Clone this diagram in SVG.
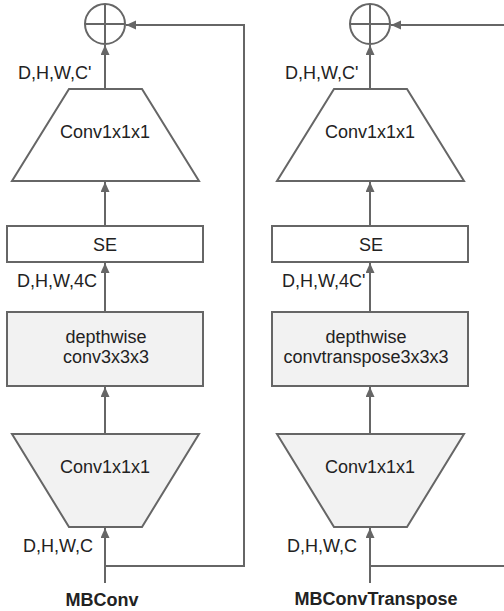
<svg xmlns="http://www.w3.org/2000/svg" width="504" height="611" viewBox="0 0 504 611">
<style>
.s{stroke:#666;stroke-width:2;fill:#fff}
.g{fill:#f2f2f2}
.l{stroke:#666;stroke-width:2;fill:none}
text{font-family:"Liberation Sans",Arial,sans-serif;font-size:18px;fill:#222}
.c{text-anchor:middle}
.b{font-weight:bold}
</style>
<defs>
<marker id="ah" markerUnits="userSpaceOnUse" markerWidth="11" markerHeight="10" refX="10" refY="4.5" orient="auto">
<path d="M0,0 L10,4.5 L0,9 z" fill="#666"/>
</marker>
</defs>
<rect width="504" height="611" fill="#fff"/>
<g id="left-add">
<circle class="s" cx="105" cy="24" r="20"/>
<path class="l" d="M85,24 H125 M105,4 V44"/>
</g>
<g id="left-conv-top">
<polygon class="s" points="69,89 142,89 199,181 12,181"/>
<text class="c" x="105" y="138">Conv1x1x1</text>
</g>
<g id="left-se">
<rect class="s" x="7" y="226" width="196" height="36"/>
<text class="c" x="105" y="251">SE</text>
</g>
<g id="left-dw">
<rect class="s g" x="7" y="312" width="196" height="74"/>
<text class="c" x="106" y="343">depthwise</text>
<text class="c" x="106" y="363">conv3x3x3</text>
</g>
<g id="left-conv-bottom">
<polygon class="s g" points="12,434 199,434 142,527 69,527"/>
<text class="c" x="105" y="473">Conv1x1x1</text>
</g>
<g id="right-add">
<circle class="s" cx="370" cy="24" r="20"/>
<path class="l" d="M350,24 H390 M370,4 V44"/>
</g>
<g id="right-conv-top">
<polygon class="s" points="334,89 407,89 464,181 277,181"/>
<text class="c" x="370" y="138">Conv1x1x1</text>
</g>
<g id="right-se">
<rect class="s" x="272" y="226" width="196" height="36"/>
<text class="c" x="371" y="251">SE</text>
</g>
<g id="right-dw">
<rect class="s g" x="272" y="312" width="196" height="74"/>
<text class="c" x="366" y="343">depthwise</text>
<text class="c" x="366" y="363">convtranspose3x3x3</text>
</g>
<g id="right-conv-bottom">
<polygon class="s g" points="277,434 464,434 407,527 334,527"/>
<text class="c" x="370" y="473">Conv1x1x1</text>
</g>
<g id="connectors">
<path class="l" d="M105,583 V528" marker-end="url(#ah)"/>
<path class="l" d="M105,434 V387" marker-end="url(#ah)"/>
<path class="l" d="M105,312 V263" marker-end="url(#ah)"/>
<path class="l" d="M105,226 V182" marker-end="url(#ah)"/>
<path class="l" d="M105,89 V45" marker-end="url(#ah)"/>
<path class="l" d="M105,566 H244 V25 H126" marker-end="url(#ah)"/>
<path class="l" d="M370,583 V528" marker-end="url(#ah)"/>
<path class="l" d="M370,434 V387" marker-end="url(#ah)"/>
<path class="l" d="M370,312 V263" marker-end="url(#ah)"/>
<path class="l" d="M370,226 V182" marker-end="url(#ah)"/>
<path class="l" d="M370,89 V45" marker-end="url(#ah)"/>
<path class="l" d="M370,566 H505"/>
<path class="l" d="M505,25 H391" marker-end="url(#ah)"/>
</g>
<g id="labels">
<text x="18" y="79">D,H,W,C'</text>
<text x="17" y="287">D,H,W,4C</text>
<text x="23" y="552">D,H,W,C</text>
<text class="c b" x="102" y="606">MBConv</text>
<text x="285" y="79">D,H,W,C'</text>
<text x="282" y="287">D,H,W,4C'</text>
<text x="287" y="552">D,H,W,C</text>
<text class="c b" x="376" y="605">MBConvTranspose</text>
</g>
</svg>
